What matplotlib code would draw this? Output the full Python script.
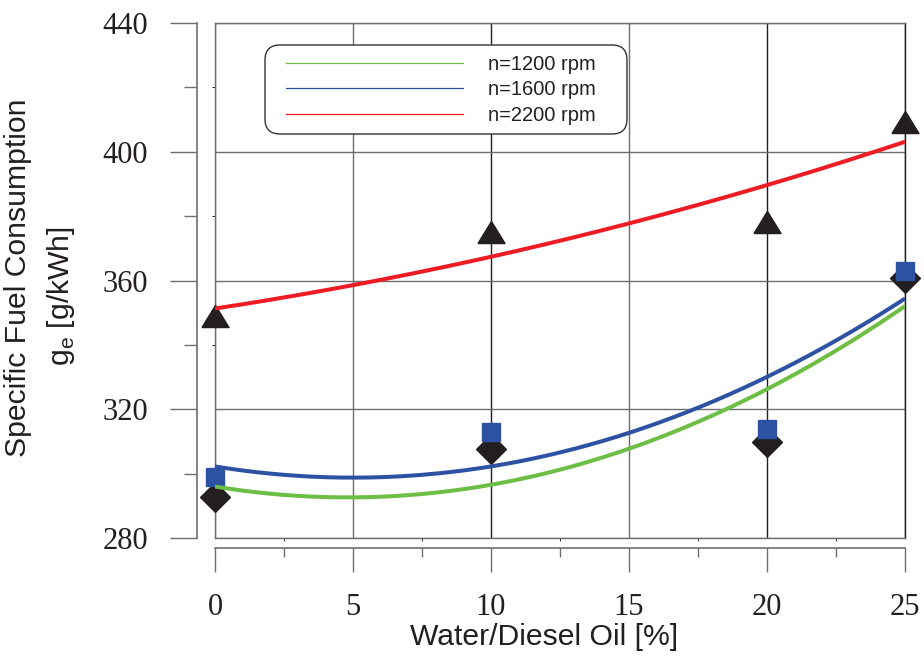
import numpy as np
import matplotlib
matplotlib.use("Agg")
import matplotlib.pyplot as plt
from matplotlib.lines import Line2D
from matplotlib.patches import FancyBboxPatch
from matplotlib.ticker import MultipleLocator

# ---- data ----
water = [0, 10, 20, 25]
ge_1200 = [292.7, 307.5, 309.8, 360.8]
ge_1600 = [299.0, 313.0, 313.9, 363.0]
ge_2200 = [349.0, 375.0, 378.2, 409.2]
series_labels = ["n=1200 rpm", "n=1600 rpm", "n=2200 rpm"]
xticks = [0, 5, 10, 15, 20, 25]
yticks = [280, 320, 360, 400, 440]

col_green = "#6CBE45"
col_blue = "#2E52A3"
col_red = "#ED1C24"
col_black = "#231F20"
col_grid = "#6E6E6E"

fig = plt.figure(figsize=(9.24, 6.59), dpi=100)
rect = [215 / 924, 1 - 538 / 659, 690 / 924, 515 / 659]
ax = fig.add_axes(rect)
ax.set_xlim(0, 25)
ax.set_ylim(280, 440)

# grid and frame
ax.set_xticks(xticks)
ax.set_yticks(yticks)
ax.tick_params(length=0, labelleft=False, labelbottom=False)
ax.grid(True, color=col_grid, linewidth=1.0)
for t, gl in zip(xticks, ax.xaxis.get_gridlines()):
    if t in (10, 20, 25):
        gl.set_color(col_black)
for s in ["left", "top", "bottom"]:
    ax.spines[s].set_color(col_grid)
    ax.spines[s].set_linewidth(1.0)
ax.spines["right"].set_color(col_black)
ax.spines["right"].set_linewidth(1.0)
ax.set_axisbelow(True)

# markers
diamond = [(0, 1), (1, 0), (0, -1), (-1, 0), (0, 1)]
tri = [(-13.5, -11), (13.5, -11), (0, 11), (-13.5, -11)]
ax.plot(water, ge_1200, linestyle="none", marker=diamond, markersize=21.5,
        color=col_black, zorder=3, clip_on=False)
ax.plot(water, ge_1600, linestyle="none", marker="s", markersize=13,
        color=col_blue, zorder=4, clip_on=False)
ax.plot(water, ge_2200, linestyle="none", marker=tri, markersize=19.5,
        color=col_black, zorder=3, clip_on=False)

# quadratic regression curves
xs = np.linspace(0, 25, 200)
for yv, c in [(ge_1200, col_green), (ge_1600, col_blue), (ge_2200, col_red)]:
    coef = np.polyfit(water, yv, 2)
    ax.plot(xs, np.polyval(coef, xs), color=c, linewidth=2.9, zorder=5,
            solid_capstyle="butt")

# legend
handles = [Line2D([], [], color=c, linewidth=0.9)
           for c in (col_green, col_blue, col_red)]
leg = ax.legend(handles, series_labels, loc="upper left",
                bbox_to_anchor=((286 - 215) / 690, 1 - (55 - 23) / 515),
                borderaxespad=0, borderpad=0, frameon=False,
                handlelength=8.8, handletextpad=1.25, labelspacing=0.32,
                prop={"family": "Liberation Sans", "size": 14.5})
for t in leg.get_texts():
    t.set_color("#222222")
box = FancyBboxPatch(((265 - 215) / 690, 1 - (134 - 23) / 515),
                     362 / 690, 89 / 515,
                     boxstyle="round,pad=0,rounding_size=%f" % (15 / 690),
                     mutation_aspect=690 / 515,
                     transform=ax.transAxes, facecolor="white",
                     edgecolor="#333333", linewidth=1.0, zorder=6)
ax.add_patch(box)
leg.set_zorder(7)

# offset axes carrying the ticks
ax2 = fig.add_axes(rect, sharex=ax, sharey=ax)
ax2.patch.set_visible(False)
ax2.spines["top"].set_visible(False)
ax2.spines["right"].set_visible(False)
ax2.spines["left"].set_position(("outward", 13))
ax2.spines["bottom"].set_position(("outward", 7.2))
for s in ["left", "bottom"]:
    ax2.spines[s].set_color(col_grid)
    ax2.spines[s].set_linewidth(1.2)
ax2.set_xticks(xticks)
ax2.set_yticks(yticks)
ax2.xaxis.set_minor_locator(MultipleLocator(2.5))
ax2.yaxis.set_minor_locator(MultipleLocator(20))
ax2.tick_params(axis="y", which="major", length=19.4, width=1.0, color=col_grid,
                pad=16)
ax2.tick_params(axis="y", which="minor", length=9.5, width=1.0, color=col_grid)
ax2.tick_params(axis="x", which="major", length=17.3, width=1.0, color=col_grid,
                pad=15)
ax2.tick_params(axis="x", which="minor", length=6.5, width=1.0, color=col_grid)
for lab in ax2.get_xticklabels() + ax2.get_yticklabels():
    lab.set_fontfamily("Liberation Serif")
    lab.set_fontsize(22)
    lab.set_color(col_black)
ax2.grid(False)

# axis titles
fig.text(544 / 924, 1 - 645 / 659, "Water/Diesel Oil [%]",
         ha="center", va="baseline", fontsize=21.7,
         family="Liberation Sans", color=col_black)
fig.text(18 / 924, 1 - 278 / 659, "Specific Fuel Consumption",
         ha="center", va="center", rotation=90, fontsize=21.7,
         family="Liberation Sans", color=col_black)
fig.text(61 / 924, 1 - 296 / 659, r"g$_\mathregular{e}$ [g/kWh]",
         ha="center", va="center", rotation=90, fontsize=21.7,
         family="Liberation Sans", color=col_black)

fig.savefig("out.png", dpi=100)
